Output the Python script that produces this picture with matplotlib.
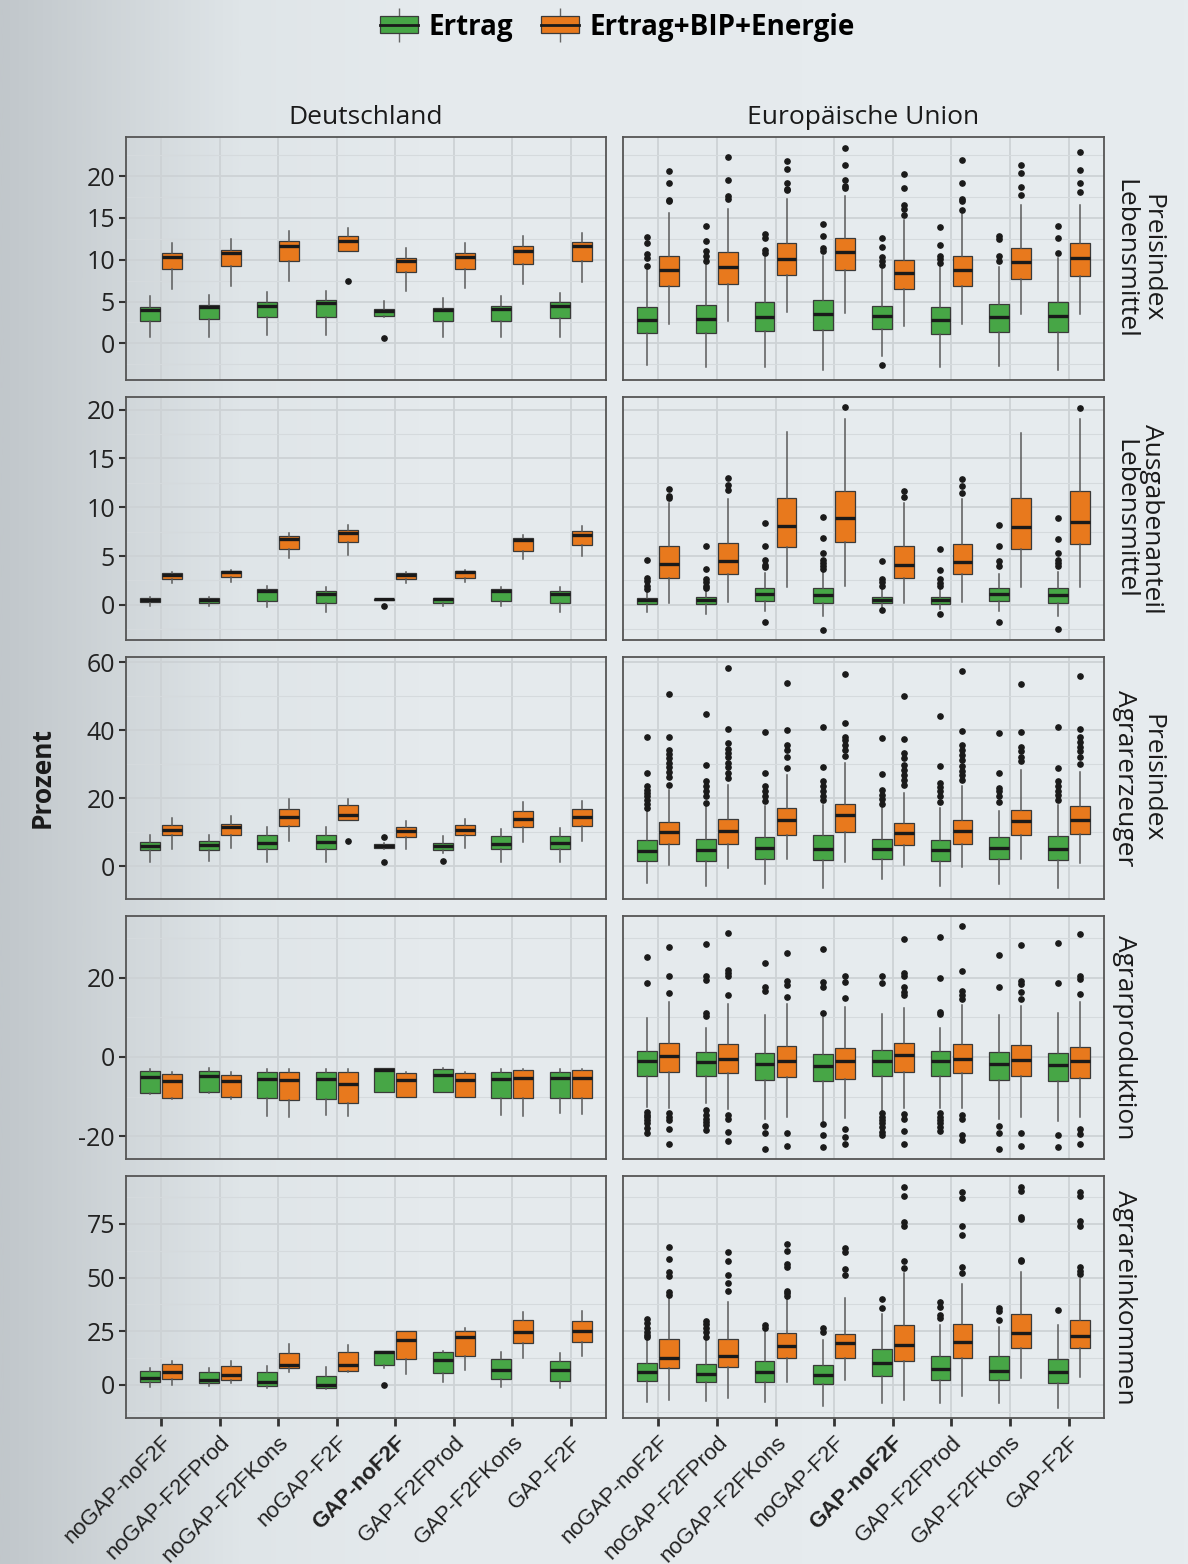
import numpy as np
import matplotlib
matplotlib.use("Agg")
import matplotlib.pyplot as plt
from matplotlib.patches import Patch
from matplotlib.lines import Line2D
from matplotlib.legend_handler import HandlerTuple
from matplotlib.colors import LinearSegmentedColormap
from matplotlib.ticker import MultipleLocator

plt.rcParams["axes.unicode_minus"] = False

# Szenarien (x-Achse)
szenarien = ["noGAP-noF2F", "noGAP-F2FProd", "noGAP-F2FKons", "noGAP-F2F",
             "GAP-noF2F", "GAP-F2FProd", "GAP-F2FKons", "GAP-F2F"]
serien = ["Ertrag", "Ertrag+BIP+Energie"]
zeilen_titel = ["Preisindex\nLebensmittel", "Ausgabenanteil\nLebensmittel",
                "Preisindex\nAgrarerzeuger", "Agrarproduktion", "Agrareinkommen"]
spalten_titel = ["Deutschland", "Europäische Union"]

# Boxplot-Kennwerte je Szenario: [unterer Whisker, Q1, Median, Q3, oberer Whisker]
leer = [[] for _ in range(8)]

# --- Preisindex Lebensmittel ---
de_pl_ertrag = [[0.8, 2.7, 4.0, 4.4, 5.6], [0.8, 2.9, 4.3, 4.6, 5.8], [1.0, 3.1, 4.5, 5.0, 6.1],
                [1.0, 3.1, 4.8, 5.2, 6.3], [3.2, 3.3, 3.9, 4.1, 5.1], [0.7, 2.7, 4.0, 4.2, 5.4],
                [0.7, 2.7, 4.1, 4.5, 5.6], [0.7, 3.0, 4.5, 4.9, 6.0]]
de_pl_ertrag_out = [[], [], [], [], [0.6], [], [], []]
de_pl_bip = [[6.5, 8.9, 10.3, 10.8, 12.0], [6.8, 9.3, 10.8, 11.2, 12.5], [7.4, 9.9, 11.7, 12.2, 13.5],
             [11.0, 11.1, 12.3, 12.8, 13.8], [6.3, 8.5, 9.8, 10.2, 11.4], [6.6, 8.9, 10.3, 10.8, 12.0],
             [7.1, 9.5, 11.1, 11.6, 12.8], [7.3, 9.8, 11.7, 12.1, 13.2]]
de_pl_bip_out = [[], [], [], [7.5], [], [], [], []]
eu_pl_ertrag = [[-2.65, 1.25, 2.75, 4.35, 8.8], [-2.9, 1.25, 2.9, 4.55, 9.35], [-2.9, 1.45, 3.15, 4.95, 10.35],
                [-3.15, 1.55, 3.5, 5.15, 10.4], [-1.55, 1.7, 3.3, 4.45, 8.95], [-2.9, 1.15, 2.75, 4.35, 9.2],
                [-2.75, 1.35, 3.1, 4.75, 9.15], [-3.15, 1.35, 3.3, 4.95, 10.25]]
eu_pl_ertrag_out = [[12.7, 12.0, 10.7, 10.2, 9.2], [14.0, 12.2, 11.0, 10.4, 9.8], [13.05, 12.65, 11.2, 10.8],
                    [14.25, 12.8, 11.4, 11.1], [12.65, 11.5, 10.35, 9.85, 9.35, -2.55],
                    [13.9, 11.8, 10.5, 10.1, 9.6], [12.9, 12.5, 10.5, 9.85], [14.1, 12.65, 10.8]]
eu_pl_bip = [[2.35, 6.8, 8.75, 10.4, 15.6], [2.7, 7.1, 9.15, 10.9, 16.1], [3.75, 8.15, 10.05, 11.95, 17.3],
             [3.6, 8.75, 10.95, 12.65, 17.6], [2.1, 6.5, 8.4, 9.95, 14.8], [2.35, 6.85, 8.8, 10.4, 15.5],
             [3.45, 7.75, 9.75, 11.45, 16.6], [3.55, 8.1, 10.2, 11.95, 16.6]]
eu_pl_bip_out = [[20.6, 19.2, 17.2, 17.0], [22.3, 19.6, 17.6, 17.3], [21.8, 20.9, 19.2, 18.5, 18.3],
                 [23.4, 21.3, 19.5, 18.8, 18.6], [20.3, 18.6, 16.6, 16.1, 15.4], [22.0, 19.2, 17.3, 17.0, 16.0],
                 [21.4, 20.4, 18.7, 17.7], [22.9, 20.8, 19.2, 18.1]]

# --- Ausgabenanteil Lebensmittel ---
de_al_ertrag = [[-0.1, 0.25, 0.5, 0.7, 0.8], [-0.15, 0.2, 0.5, 0.75, 0.8], [-0.25, 0.4, 1.4, 1.6, 1.9],
                [-0.7, 0.2, 1.1, 1.45, 1.85], [0.45, 0.45, 0.55, 0.65, 0.65], [-0.15, 0.2, 0.6, 0.7, 0.75],
                [-0.15, 0.4, 1.4, 1.6, 1.85], [-0.7, 0.2, 1.1, 1.45, 1.85]]
de_al_ertrag_out = [[], [], [], [], [-0.1], [], [], []]
de_al_bip = [[2.2, 2.6, 3.1, 3.25, 3.35], [2.3, 2.85, 3.35, 3.5, 3.6], [4.8, 5.7, 6.7, 7.1, 7.35],
             [5.1, 6.45, 7.35, 7.7, 8.2], [2.2, 2.6, 3.1, 3.25, 3.35], [2.3, 2.75, 3.35, 3.5, 3.6],
             [4.7, 5.55, 6.6, 6.85, 7.2], [5.05, 6.1, 7.2, 7.6, 8.1]]
eu_al_ertrag = [[-0.7, 0.1, 0.45, 0.75, 1.55], [-0.9, 0.1, 0.5, 0.85, 1.6], [-0.6, 0.4, 1.1, 1.7, 3.3],
                [-1.15, 0.2, 1.0, 1.7, 3.4], [-0.3, 0.2, 0.5, 0.8, 1.7], [-0.4, 0.1, 0.5, 0.8, 1.6],
                [-0.6, 0.4, 1.1, 1.7, 3.2], [-1.15, 0.2, 1.0, 1.7, 3.4]]
eu_al_ertrag_out = [[4.6, 2.75, 2.4, 1.9, 1.65], [6.0, 3.7, 2.65, 2.3, 1.9, 1.7],
                    [8.4, 6.0, 4.55, 4.1, 3.85, -1.8], [9.05, 6.85, 5.35, 4.6, 4.3, 4.0, 3.7, -2.55],
                    [4.45, 2.65, 2.3, 1.9, -0.5], [5.75, 3.6, 2.65, 2.2, 1.9, -0.9],
                    [8.2, 6.0, 4.45, 3.95, -1.8], [8.95, 6.7, 5.35, 4.6, 4.3, 3.95, -2.5]]
eu_al_bip = [[0.15, 2.8, 4.2, 6.0, 10.4], [0.25, 3.2, 4.45, 6.3, 10.8], [1.8, 5.9, 8.05, 11.0, 17.7],
             [1.95, 6.4, 8.9, 11.7, 19.0], [0.15, 2.75, 4.05, 6.0, 10.4], [0.25, 3.2, 4.4, 6.25, 10.8],
             [1.8, 5.75, 7.95, 11.0, 17.6], [1.8, 6.2, 8.5, 11.7, 19.0]]
eu_al_bip_out = [[11.85, 11.2, 10.95], [13.0, 12.3, 11.8], [], [20.3],
                 [11.7, 11.05], [12.9, 12.2, 11.45], [], [20.2]]

# --- Preisindex Agrarerzeuger ---
de_pa_ertrag = [[1.25, 4.7, 5.85, 7.1, 9.05], [1.45, 4.7, 6.15, 7.3, 9.25], [1.15, 4.9, 6.8, 9.05, 11.5],
                [1.15, 5.05, 7.1, 9.05, 11.5], [5.15, 5.35, 5.85, 6.6, 6.8], [3.9, 4.7, 5.85, 6.8, 8.8],
                [1.25, 4.9, 6.55, 8.8, 11.0], [1.15, 4.9, 6.8, 8.8, 11.2]]
de_pa_ertrag_out = [[], [], [], [], [8.6, 1.15], [1.45], [], []]
de_pa_bip = [[5.1, 9.0, 10.7, 12.0, 14.1], [5.35, 9.25, 11.5, 12.5, 14.6], [7.3, 11.7, 14.3, 16.75, 19.7],
             [13.65, 13.65, 15.1, 18.0, 19.7], [5.1, 8.6, 10.25, 11.4, 13.35], [5.35, 9.0, 10.7, 12.0, 13.85],
             [7.0, 11.4, 13.85, 16.3, 18.8], [7.3, 11.7, 14.3, 16.75, 19.2]]
de_pa_bip_out = [[], [], [], [7.3], [], [], [], []]
eu_pa_ertrag = [[-4.9, 1.45, 4.4, 7.6, 16.1], [-5.85, 1.45, 4.7, 8.0, 17.6], [-5.4, 1.95, 5.45, 8.6, 17.8],
                [-6.6, 1.65, 5.15, 9.05, 18.0], [-3.9, 1.95, 5.05, 8.0, 17.0], [-5.85, 1.45, 4.6, 7.8, 17.1],
                [-5.4, 1.95, 5.35, 8.6, 16.1], [-6.6, 1.65, 5.15, 8.8, 18.0]]
eu_pa_ertrag_out = [[37.9, 27.5, 23.4, 22.4, 21.5, 20.5, 19.5, 18.3, 17.1],
                    [44.7, 29.6, 24.9, 23.4, 22.2, 20.5, 18.5],
                    [39.3, 27.5, 23.4, 22.0, 20.5, 19.0],
                    [41.0, 29.1, 24.9, 23.4, 22.0, 20.5, 19.5],
                    [37.6, 27.1, 22.4, 21.0, 19.7, 18.3],
                    [44.2, 29.3, 24.4, 23.2, 22.0, 20.5, 18.8],
                    [39.0, 27.3, 23.1, 22.0, 20.5, 18.8],
                    [40.8, 28.8, 24.9, 23.4, 22.2, 21.0, 19.5]]
eu_pa_bip = [[0.2, 6.35, 10.0, 13.0, 22.4], [-0.5, 6.6, 10.25, 13.85, 23.9], [2.15, 9.25, 13.5, 17.1, 26.8],
             [1.15, 10.05, 14.9, 18.3, 30.2], [0.2, 6.05, 9.85, 12.7, 21.5], [-0.2, 6.35, 10.25, 13.65, 23.4],
             [1.95, 9.05, 13.2, 16.6, 28.3], [0.95, 9.45, 13.65, 17.8, 27.8]]
eu_pa_bip_out = [[50.7, 37.9, 34.1, 33.0, 31.7, 30.2, 29.1, 27.8, 26.3, 23.9],
                 [58.3, 40.3, 36.1, 34.3, 33.2, 32.0, 30.2, 29.1, 27.5, 25.9],
                 [53.9, 40.0, 35.5, 34.1, 32.2, 28.8],
                 [56.4, 42.1, 38.0, 37.1, 35.6, 34.1, 32.4],
                 [50.1, 37.3, 33.2, 31.7, 29.8, 28.3, 26.8, 25.4, 23.9],
                 [57.4, 39.8, 35.6, 34.1, 32.7, 31.2, 29.5, 28.1, 26.8, 25.4],
                 [53.5, 39.5, 34.9, 33.7, 32.2, 31.0],
                 [55.8, 40.4, 38.0, 36.6, 34.9, 33.7, 32.2, 30.1]]

# --- Agrarproduktion ---
de_ap_ertrag = [[-9.4, -9.15, -5.1, -3.45, -3.0], [-9.15, -8.9, -4.8, -3.45, -2.85], [-14.8, -10.4, -5.6, -3.7, -3.1],
                [-14.6, -10.7, -5.55, -3.7, -3.1], [-8.9, -8.75, -3.3, -2.85, -2.85], [-8.9, -8.75, -4.55, -3.1, -2.7],
                [-14.6, -10.4, -5.55, -3.7, -3.1], [-14.2, -10.4, -5.4, -3.7, -3.1]]
de_ap_bip = [[-10.7, -10.4, -6.05, -4.35, -3.85], [-10.6, -10.15, -5.95, -4.55, -3.85], [-15.2, -10.85, -5.8, -3.7, -3.1],
             [-14.8, -11.7, -6.9, -3.7, -3.1], [-10.15, -10.0, -5.8, -3.95, -3.7], [-10.15, -10.0, -5.8, -3.95, -3.7],
             [-14.8, -10.4, -5.4, -3.3, -3.0], [-14.45, -10.4, -5.2, -3.3, -3.0]]
eu_ap_ertrag = [[-12.5, -4.7, -0.9, 1.6, 9.75], [-11.7, -4.7, -1.2, 1.35, 7.2], [-15.6, -5.8, -1.85, 1.1, 10.6],
                [-16.1, -6.0, -2.2, 0.7, 10.0], [-13.8, -4.7, -0.9, 1.75, 10.8], [-12.8, -4.8, -1.0, 1.5, 7.2],
                [-15.6, -5.8, -1.75, 1.35, 10.6], [-16.1, -6.05, -2.0, 1.1, 11.0]]
eu_ap_ertrag_out = [[25.3, 18.6, -13.95, -14.6, -15.2, -15.9, -16.7, -18.0, -19.2],
                    [28.4, 20.3, 19.4, 11.0, 10.2, -13.4, -14.6, -15.5, -16.3, -17.1, -18.4],
                    [23.6, 17.7, 16.6, -17.3, -19.2, -23.2],
                    [27.1, 18.8, 17.7, 11.0, -16.9, -19.6, -22.8],
                    [20.3, 18.6, -14.2, -15.0, -15.9, -16.7, -17.6, -18.8, -19.7],
                    [30.3, 20.0, 11.4, 10.75, -14.2, -15.0, -15.9, -16.7, -17.6, -18.7],
                    [25.7, 17.7, -17.3, -19.2, -23.2],
                    [28.7, 18.6, -19.7, -22.8]]
eu_ap_bip = [[-12.9, -3.7, 0.25, 3.45, 13.8], [-13.0, -4.1, -0.5, 3.2, 13.3], [-15.2, -4.95, -0.9, 2.8, 13.3],
             [-15.3, -5.55, -1.0, 2.2, 12.7], [-12.9, -3.7, 0.5, 3.6, 12.4], [-12.8, -4.1, -0.5, 3.3, 13.1],
             [-15.0, -4.8, -0.75, 3.0, 12.9], [-15.2, -5.4, -1.0, 2.6, 13.8]]
eu_ap_bip_out = [[27.8, 20.4, 16.05, -14.2, -15.0, -15.9, -18.2, -21.9],
                 [31.2, 21.9, 21.1, 20.4, 15.5, -14.6, -15.5, -19.0, -21.1],
                 [26.3, 19.2, 18.2, 15.2, -19.2, -22.4],
                 [20.5, 18.8, 14.8, -18.2, -20.1, -22.0],
                 [29.7, 21.1, 20.3, 17.5, 16.3, 15.5, -14.45, -15.5, -18.7, -21.8],
                 [32.9, 21.7, 16.6, 15.6, 14.6, -14.6, -15.5, -19.7, -20.9],
                 [28.1, 19.2, 18.3, 16.3, 14.6, -19.2, -22.4],
                 [30.9, 20.4, 19.7, 15.8, -18.2, -19.5, -22.0]]

# --- Agrareinkommen ---
de_ae_ertrag = [[-0.75, 1.55, 3.25, 6.65, 7.75], [-0.3, 0.75, 2.5, 5.9, 7.75], [-1.55, -0.6, 1.55, 5.9, 8.65],
                [-1.85, -1.55, 0.15, 4.35, 8.2], [7.9, 9.45, 15.15, 15.6, 15.6], [1.25, 5.4, 11.75, 15.15, 15.9],
                [-1.1, 2.8, 7.1, 12.05, 15.45], [-1.55, 2.0, 6.95, 11.0, 14.85]]
de_ae_ertrag_out = [[], [], [], [], [0.0], [], [], []]
de_ae_bip = [[0.0, 2.8, 5.9, 9.75, 11.3], [0.9, 2.5, 4.8, 8.65, 11.3], [5.9, 7.75, 9.45, 14.7, 19.0],
             [5.9, 6.65, 9.3, 15.45, 18.55], [5.1, 12.05, 21.0, 24.9, 25.2], [6.95, 13.6, 22.1, 25.2, 26.3],
             [12.5, 19.35, 24.45, 30.15, 34.0], [13.3, 20.1, 24.9, 29.85, 34.5]]
eu_ae_ertrag = [[-7.8, 2.0, 6.2, 10.4, 21.7], [-7.5, 1.55, 5.1, 9.8, 21.7], [-7.8, 1.55, 5.9, 11.3, 24.8],
                [-9.6, 0.45, 4.65, 9.3, 21.0], [-8.2, 4.35, 10.4, 16.8, 33.0], [-8.5, 2.3, 7.45, 13.7, 28.0],
                [-8.5, 2.3, 6.7, 13.5, 27.2], [-10.9, 0.8, 5.9, 12.0, 28.0]]
eu_ae_ertrag_out = [[30.7, 28.7, 26.4, 24.8, 23.3, 22.5], [29.8, 28.3, 26.4, 24.8, 22.5], [28.0, 26.4],
                    [26.4, 24.8], [39.9, 35.7], [38.8, 36.5, 32.6, 31.1], [36.0, 34.2, 30.3], [34.9]]
eu_ae_bip = [[-7.0, 7.8, 12.7, 21.3, 40.4], [-5.9, 8.55, 13.5, 21.3, 38.8], [1.55, 12.4, 18.2, 24.4, 40.4],
             [2.3, 12.4, 19.4, 23.8, 40.4], [-7.0, 11.2, 18.6, 28.0, 52.0], [-5.0, 12.7, 19.9, 28.4, 46.9],
             [3.1, 17.4, 24.4, 32.9, 52.5], [3.9, 17.1, 22.8, 30.3, 49.4]]
eu_ae_bip_out = [[64.4, 58.7, 52.5, 50.5, 43.5, 41.9], [61.8, 57.8, 51.0, 47.4, 43.8],
                 [65.7, 62.4, 56.2, 54.7, 43.8, 42.7, 41.5], [64.0, 61.8, 54.0, 51.2],
                 [92.4, 88.0, 76.1, 73.8, 57.8, 54.3], [89.8, 87.0, 73.8, 69.6, 55.1, 52.0],
                 [92.4, 90.4, 78.4, 77.3, 58.2, 57.5], [89.8, 88.2, 76.4, 73.8, 54.7, 53.1, 51.6]]

# y-Bereiche und Tickabstand pro Zeile
y_bereiche = [(-4.4, 24.7), (-3.6, 21.3), (-9.7, 61.5), (-25.7, 35.5), (-15.4, 97.3)]
y_schritte = [5, 5, 20, 20, 25]

panels = [
    [(de_pl_ertrag, de_pl_ertrag_out, de_pl_bip, de_pl_bip_out),
     (eu_pl_ertrag, eu_pl_ertrag_out, eu_pl_bip, eu_pl_bip_out)],
    [(de_al_ertrag, de_al_ertrag_out, de_al_bip, leer),
     (eu_al_ertrag, eu_al_ertrag_out, eu_al_bip, eu_al_bip_out)],
    [(de_pa_ertrag, de_pa_ertrag_out, de_pa_bip, de_pa_bip_out),
     (eu_pa_ertrag, eu_pa_ertrag_out, eu_pa_bip, eu_pa_bip_out)],
    [(de_ap_ertrag, leer, de_ap_bip, leer),
     (eu_ap_ertrag, eu_ap_ertrag_out, eu_ap_bip, eu_ap_bip_out)],
    [(de_ae_ertrag, de_ae_ertrag_out, de_ae_bip, leer),
     (eu_ae_ertrag, eu_ae_ertrag_out, eu_ae_bip, eu_ae_bip_out)],
]

GRUEN = "#47a646"
ORANGE = "#e8791d"
SCHRIFT = "Open Sans"

W, H = 1188, 1564
spalten_px = [(126, 606), (623, 1104)]
zeilen_px = [(137, 380), (397, 640), (657, 899), (916, 1159), (1176, 1418)]


def box_stats(werte, ausreisser):
    return [dict(whislo=w[0], q1=w[1], med=w[2], q3=w[3], whishi=w[4], fliers=f)
            for w, f in zip(werte, ausreisser)]


def zeichne_boxen(ax, werte, ausreisser, versatz, farbe):
    pos = np.arange(1, 9) + versatz
    ax.bxp(box_stats(werte, ausreisser), positions=pos, widths=0.3375,
           patch_artist=True, showcaps=False, manage_ticks=False,
           boxprops=dict(facecolor=farbe, edgecolor="#3a3a3a", linewidth=0.9),
           medianprops=dict(color="#1a1a1a", linewidth=2.4),
           whiskerprops=dict(color="#5a5a5a", linewidth=1.1),
           flierprops=dict(marker="o", markerfacecolor="#1a1a1a",
                           markeredgecolor="#1a1a1a", markersize=3.8))


fig = plt.figure(figsize=(W / 100, H / 100), dpi=100)

# Hintergrund mit Verlauf
bg = fig.add_axes([0, 0, 1, 1], zorder=-10)
verlauf = LinearSegmentedColormap.from_list(
    "bg", [(0, "#c1c7cb"), (0.2, "#dfe5e8"), (0.35, "#e5eaed"), (1, "#e7ecef")])
bg.imshow(np.linspace(0, 1, 500).reshape(1, -1), aspect="auto", cmap=verlauf,
          extent=[0, 1, 0, 1])
bg.axis("off")

for r, (y0, y1) in enumerate(zeilen_px):
    for c, (x0, x1) in enumerate(spalten_px):
        ax = fig.add_axes([x0 / W, 1 - y1 / H, (x1 - x0) / W, (y1 - y0) / H])
        ax.set_facecolor("none")
        ertrag, ertrag_out, bip, bip_out = panels[r][c]
        zeichne_boxen(ax, ertrag, ertrag_out, -0.1875, GRUEN)
        zeichne_boxen(ax, bip, bip_out, 0.1875, ORANGE)

        ax.set_xlim(0.4, 8.6)
        ax.set_ylim(*y_bereiche[r])
        ax.set_xticks(range(1, 9))
        ax.yaxis.set_major_locator(MultipleLocator(y_schritte[r]))
        ax.yaxis.set_minor_locator(MultipleLocator(y_schritte[r] / 2))
        ax.set_axisbelow(True)
        ax.grid(which="major", color="#cdd2d5", linewidth=1.3)
        ax.grid(which="minor", axis="y", color="#d5dadd", linewidth=0.8)
        for s in ax.spines.values():
            s.set_color("#555555")
            s.set_linewidth(1.3)

        ax.tick_params(axis="y", which="minor", length=0)
        if c == 0:
            ax.tick_params(axis="y", which="major", length=5, width=1.5, color="#333333",
                           labelsize=18, labelcolor="#222222", pad=3)
            for lab in ax.get_yticklabels():
                lab.set_fontfamily(SCHRIFT)
        else:
            ax.tick_params(axis="y", which="major", length=0, labelleft=False)

        if r == len(zeilen_px) - 1:
            ax.tick_params(axis="x", length=6, width=2, color="#333333", pad=4)
            ax.set_xticklabels(szenarien, rotation=45, ha="right", rotation_mode="anchor",
                               fontsize=16, family="Liberation Sans", color="#222222")
            ax.get_xticklabels()[4].set_fontweight("bold")
        else:
            ax.tick_params(axis="x", length=0, labelbottom=False)

        if r == 0:
            ax.set_title(spalten_titel[c], fontsize=19, family=SCHRIFT, color="#1a1a1a", pad=9)

    # Zeilenbeschriftung rechts
    fig.text(1112 / W, 1 - (y0 + y1) / 2 / H, zeilen_titel[r], rotation=-90,
             ha="left", va="center", multialignment="center", fontsize=19,
             family=SCHRIFT, color="#1a1a1a", linespacing=1.1)

fig.text(42 / W, 1 - 777 / H, "Prozent", rotation=90, ha="center", va="center",
         fontsize=19, fontweight="bold", family=SCHRIFT, color="#1a1a1a")

# Legende oben: Whisker, Box und Median übereinander
griffe = [(Line2D([0], [0], color="#666666", marker="|", markersize=24, linestyle="None"),
           Patch(facecolor=f, edgecolor="#3a3a3a", linewidth=0.9),
           Line2D([0], [0], color="#1a1a1a", linewidth=2)) for f in (GRUEN, ORANGE)]
fig.legend(griffe, serien, loc="center", bbox_to_anchor=(0.52, 1 - 27 / H), ncol=2,
           frameon=False, handler_map={tuple: HandlerTuple(ndivide=1, pad=0)},
           prop=dict(family=SCHRIFT, weight="bold", size=20),
           handlelength=1.35, handleheight=0.55, handletextpad=0.4, columnspacing=1.0)

fig.savefig("out.png", dpi=100)
